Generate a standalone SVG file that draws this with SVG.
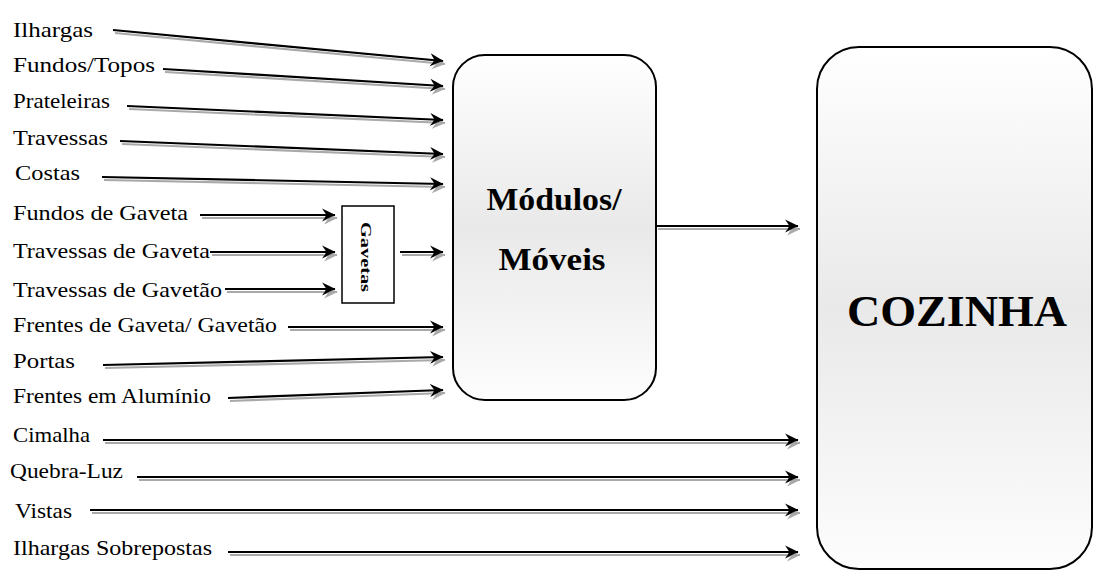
<svg xmlns="http://www.w3.org/2000/svg" width="1094" height="572" viewBox="0 0 1094 572">
  <defs>
    <style>
      text { font-family: 'Liberation Serif', 'Times New Roman', Times, serif; }
      .lbl { font-size: 21px; fill: #000; }
      .big { font-weight: bold; fill: #000; }
      .box { fill: url(#grad); stroke: #000; stroke-width: 2; }
      .conn line { stroke: #000; stroke-width: 2.2; marker-end: url(#arrow); }
    </style>
    <linearGradient id="grad" x1="0" y1="0" x2="0" y2="1">
      <stop offset="0" stop-color="#ffffff"/>
      <stop offset="0.5" stop-color="#e9e9e9"/>
      <stop offset="1" stop-color="#fdfdfd"/>
    </linearGradient>
    <marker id="arrow" markerUnits="userSpaceOnUse" markerWidth="14" markerHeight="14" refX="12" refY="6" orient="auto" viewBox="0 0 13 12">
      <path d="M0,0 L12.5,6 L0,12 L4,6 z" fill="#000"/>
    </marker>
    <filter id="shadow" x="-5%" y="-50%" width="110%" height="200%">
      <feDropShadow dx="2" dy="3" stdDeviation="0.6" flood-color="#a0a0a0" flood-opacity="0.9"/>
    </filter>
  </defs>
  <rect width="1094" height="572" fill="#fff"/>

  <g id="connectors" class="conn" filter="url(#shadow)">
    <line x1="113" y1="30" x2="443" y2="61"/>
    <line x1="163" y1="69" x2="443" y2="86"/>
    <line x1="127" y1="106" x2="443" y2="120"/>
    <line x1="120" y1="141" x2="443" y2="154"/>
    <line x1="102" y1="177" x2="443" y2="184"/>
    <line x1="200" y1="215" x2="335" y2="215"/>
    <line x1="210" y1="252" x2="335" y2="252"/>
    <line x1="225" y1="289" x2="335" y2="289"/>
    <line x1="400" y1="252" x2="443" y2="252"/>
    <line x1="288" y1="327" x2="443" y2="327"/>
    <line x1="103" y1="365" x2="443" y2="357"/>
    <line x1="228" y1="398" x2="443" y2="390"/>
    <line x1="656" y1="226" x2="798" y2="226"/>
    <line x1="103" y1="440" x2="798" y2="440"/>
    <line x1="137" y1="477" x2="798" y2="477"/>
    <line x1="90" y1="510" x2="798" y2="510"/>
    <line x1="228" y1="552" x2="798" y2="552"/>
  </g>

  <g id="labels">
    <text class="lbl" x="13" y="37" textLength="80" lengthAdjust="spacingAndGlyphs">Ilhargas</text>
    <text class="lbl" x="13" y="72" textLength="142" lengthAdjust="spacingAndGlyphs">Fundos/Topos</text>
    <text class="lbl" x="13" y="108" textLength="97" lengthAdjust="spacingAndGlyphs">Prateleiras</text>
    <text class="lbl" x="13" y="145" textLength="95" lengthAdjust="spacingAndGlyphs">Travessas</text>
    <text class="lbl" x="15" y="180" textLength="65" lengthAdjust="spacingAndGlyphs">Costas</text>
    <text class="lbl" x="13" y="220" textLength="175" lengthAdjust="spacingAndGlyphs">Fundos de Gaveta</text>
    <text class="lbl" x="13" y="258" textLength="197" lengthAdjust="spacingAndGlyphs">Travessas de Gaveta</text>
    <text class="lbl" x="13" y="297" textLength="209" lengthAdjust="spacingAndGlyphs">Travessas de Gavetão</text>
    <text class="lbl" x="13" y="332" textLength="264" lengthAdjust="spacingAndGlyphs">Frentes de Gaveta/ Gavetão</text>
    <text class="lbl" x="13" y="368" textLength="62" lengthAdjust="spacingAndGlyphs">Portas</text>
    <text class="lbl" x="13" y="403" textLength="198" lengthAdjust="spacingAndGlyphs">Frentes em Alumínio</text>
    <text class="lbl" x="13" y="442" textLength="77" lengthAdjust="spacingAndGlyphs">Cimalha</text>
    <text class="lbl" x="10" y="478" textLength="113" lengthAdjust="spacingAndGlyphs">Quebra-Luz</text>
    <text class="lbl" x="15" y="518" textLength="57" lengthAdjust="spacingAndGlyphs">Vistas</text>
    <text class="lbl" x="13" y="555" textLength="199" lengthAdjust="spacingAndGlyphs">Ilhargas Sobrepostas</text>
  </g>

  <g id="gavetas">
    <rect x="342" y="206" width="52" height="97" fill="#fff" stroke="#000" stroke-width="1.5"/>
    <text class="big" font-size="15" text-anchor="middle" transform="translate(361,257) rotate(90)" textLength="70" lengthAdjust="spacingAndGlyphs">Gavetas</text>
  </g>

  <g id="modulos">
    <rect class="box" x="453" y="55" width="203" height="345" rx="32" ry="32"/>
    <text class="big" font-size="32" x="554" y="210" text-anchor="middle" textLength="135" lengthAdjust="spacingAndGlyphs">Módulos/</text>
    <text class="big" font-size="32" x="552" y="270" text-anchor="middle" textLength="107" lengthAdjust="spacingAndGlyphs">Móveis</text>
  </g>

  <g id="cozinha">
    <rect class="box" x="817" y="47" width="275" height="522" rx="42" ry="42"/>
    <text class="big" font-size="45" x="957" y="326" text-anchor="middle" textLength="220" lengthAdjust="spacingAndGlyphs">COZINHA</text>
  </g>
</svg>
